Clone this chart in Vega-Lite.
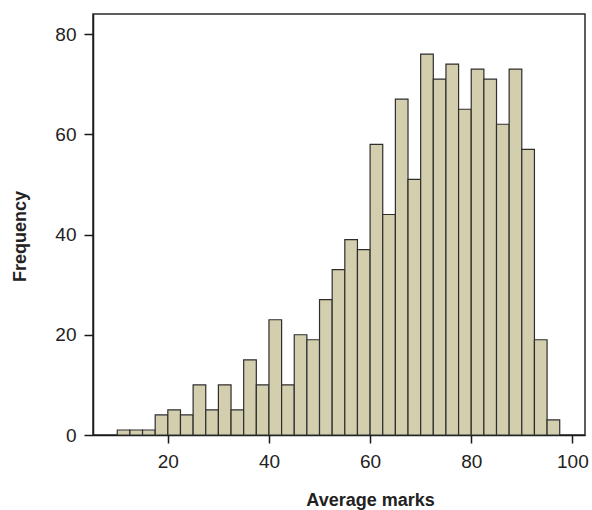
{
  "$schema": "https://vega.github.io/schema/vega-lite/v6.json",
  "width": 492,
  "height": 421,
  "autosize": {"type": "none"},
  "padding": {"left": 93, "top": 14, "right": 7, "bottom": 75},
  "background": "white",
  "config": {
    "view": {"stroke": "#2a2a2a", "strokeWidth": 1.5},
    "font": "Liberation Sans"
  },
  "data": {
    "values": [
      {"bin_start": 10, "bin_end": 12.5, "count": 1},
      {"bin_start": 12.5, "bin_end": 15, "count": 1},
      {"bin_start": 15, "bin_end": 17.5, "count": 1},
      {"bin_start": 17.5, "bin_end": 20, "count": 4},
      {"bin_start": 20, "bin_end": 22.5, "count": 5},
      {"bin_start": 22.5, "bin_end": 25, "count": 4},
      {"bin_start": 25, "bin_end": 27.5, "count": 10},
      {"bin_start": 27.5, "bin_end": 30, "count": 5},
      {"bin_start": 30, "bin_end": 32.5, "count": 10},
      {"bin_start": 32.5, "bin_end": 35, "count": 5},
      {"bin_start": 35, "bin_end": 37.5, "count": 15},
      {"bin_start": 37.5, "bin_end": 40, "count": 10},
      {"bin_start": 40, "bin_end": 42.5, "count": 23},
      {"bin_start": 42.5, "bin_end": 45, "count": 10},
      {"bin_start": 45, "bin_end": 47.5, "count": 20},
      {"bin_start": 47.5, "bin_end": 50, "count": 19},
      {"bin_start": 50, "bin_end": 52.5, "count": 27},
      {"bin_start": 52.5, "bin_end": 55, "count": 33},
      {"bin_start": 55, "bin_end": 57.5, "count": 39},
      {"bin_start": 57.5, "bin_end": 60, "count": 37},
      {"bin_start": 60, "bin_end": 62.5, "count": 58},
      {"bin_start": 62.5, "bin_end": 65, "count": 44},
      {"bin_start": 65, "bin_end": 67.5, "count": 67},
      {"bin_start": 67.5, "bin_end": 70, "count": 51},
      {"bin_start": 70, "bin_end": 72.5, "count": 76},
      {"bin_start": 72.5, "bin_end": 75, "count": 71},
      {"bin_start": 75, "bin_end": 77.5, "count": 74},
      {"bin_start": 77.5, "bin_end": 80, "count": 65},
      {"bin_start": 80, "bin_end": 82.5, "count": 73},
      {"bin_start": 82.5, "bin_end": 85, "count": 71},
      {"bin_start": 85, "bin_end": 87.5, "count": 62},
      {"bin_start": 87.5, "bin_end": 90, "count": 73},
      {"bin_start": 90, "bin_end": 92.5, "count": 57},
      {"bin_start": 92.5, "bin_end": 95, "count": 19},
      {"bin_start": 95, "bin_end": 97.5, "count": 3}
    ]
  },
  "mark": {"type": "rect", "fill": "#d3cfae", "stroke": "#2e2e2e", "strokeWidth": 1.2},
  "encoding": {
    "x": {
      "field": "bin_start",
      "type": "quantitative",
      "scale": {"domain": [5.2, 102.5], "nice": false, "zero": false},
      "axis": {
        "title": "Average marks",
        "values": [20, 40, 60, 80, 100],
        "grid": false,
        "domainColor": "#1a1a1a",
        "domainWidth": 1.5,
        "tickColor": "#1a1a1a",
        "tickWidth": 1.5,
        "tickSize": 8,
        "labelFontSize": 19,
        "labelColor": "#222222",
        "labelPadding": 9,
        "labelFont": "Liberation Sans",
        "titleFont": "Liberation Sans",
        "titleFontSize": 18,
        "titleFontWeight": "bold",
        "titleColor": "#222222",
        "titleX": 277,
        "titleY": 70,
        "titleBaseline": "alphabetic"
      }
    },
    "x2": {"field": "bin_end"},
    "y": {
      "field": "count",
      "type": "quantitative",
      "scale": {"domain": [0, 84], "nice": false},
      "axis": {
        "title": "Frequency",
        "values": [0, 20, 40, 60, 80],
        "grid": false,
        "domainColor": "#1a1a1a",
        "domainWidth": 1.5,
        "tickColor": "#1a1a1a",
        "tickWidth": 1.5,
        "tickSize": 9,
        "labelFontSize": 19,
        "labelColor": "#222222",
        "labelPadding": 8,
        "labelFont": "Liberation Sans",
        "titleFont": "Liberation Sans",
        "titleFontSize": 18,
        "titleFontWeight": "bold",
        "titleColor": "#222222",
        "titleAngle": -90,
        "titleX": -73,
        "titleY": 222,
        "titleAlign": "center",
        "titleBaseline": "middle"
      }
    },
    "y2": {"datum": 0}
  }
}
